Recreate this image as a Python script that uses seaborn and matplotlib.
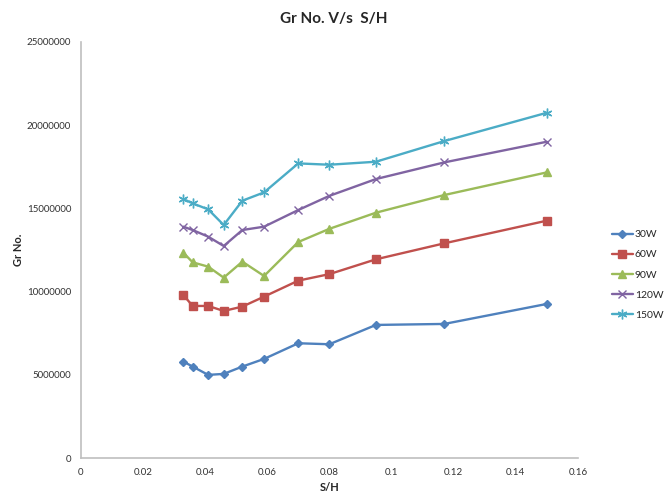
# Gr No. 대 S/H 그래프 다시 그리기

import pandas as pd
import numpy as np
import matplotlib.pyplot as plt
import seaborn as sns

sns.set_style('white')
plt.rcParams['font.family'] = ['Lato', 'DejaVu Sans']

# 그림에서 읽은 값들
sh = [0.033, 0.036, 0.041, 0.046, 0.052, 0.059, 0.070, 0.080, 0.095, 0.117, 0.150]
gr_30w = [5.80e6, 5.50e6, 5.00e6, 5.06e6, 5.50e6, 5.96e6, 6.90e6, 6.84e6, 8.00e6, 8.06e6, 9.26e6]
gr_60w = [9.80e6, 9.14e6, 9.14e6, 8.84e6, 9.10e6, 9.70e6, 10.66e6, 11.05e6, 11.94e6, 12.90e6, 14.26e6]
gr_90w = [12.34e6, 11.76e6, 11.50e6, 10.84e6, 11.80e6, 10.94e6, 12.98e6, 13.77e6, 14.74e6, 15.80e6, 17.16e6]
gr_120w = [13.90e6, 13.70e6, 13.30e6, 12.74e6, 13.70e6, 13.90e6, 14.90e6, 15.75e6, 16.76e6, 17.76e6, 19.00e6]
gr_150w = [15.56e6, 15.30e6, 14.94e6, 14.00e6, 15.46e6, 15.96e6, 17.70e6, 17.62e6, 17.80e6, 19.04e6, 20.74e6]
powers = ['30W', '60W', '90W', '120W', '150W']

series = [gr_30w, gr_60w, gr_90w, gr_120w, gr_150w]
colors = ['#4F81BD', '#C0504D', '#9BBB59', '#8064A2', '#4BACC6']
marks = ['D', 's', '^', 'x', (6, 2, 0)]
msizes = [4.5, 6, 6, 6, 7]

fig = plt.figure(figsize=(6.68, 4.98), dpi=100)
ax = fig.add_axes([0.121, 0.080, 0.744, 0.836])

for p, g, c, m, ms in zip(powers, series, colors, marks, msizes):
    d = pd.DataFrame({'S/H': sh, 'Gr': g})
    sns.lineplot(data=d, x='S/H', y='Gr', color=c, marker=m, markersize=ms,
                 markeredgecolor=c, markeredgewidth=1, linewidth=1.7,
                 label=p, ax=ax)

ax.set_xlim(0, 0.16)
ax.set_ylim(0, 25000000)
ax.set_xticks(np.arange(0, 0.161, 0.02))
ax.set_xticklabels(['0', '0.02', '0.04', '0.06', '0.08', '0.1', '0.12', '0.14', '0.16'])
ax.set_yticks(np.arange(0, 25000001, 5000000))
ax.set_yticklabels(['0', '5000000', '10000000', '15000000', '20000000', '25000000'])
ax.tick_params(axis='both', labelsize=7, colors='#333333', length=0, pad=7)

sns.despine(ax=ax)
for s in ['left', 'bottom']:
    ax.spines[s].set_color('#BFBFBF')
    ax.spines[s].set_linewidth(1.2)

ax.set_xlabel('S/H', fontsize=8, fontweight='bold', labelpad=4)
ax.set_ylabel('Gr No.', fontsize=8, fontweight='bold', labelpad=2)
fig.suptitle('Gr No. V/s  S/H', x=0.5, y=0.975, fontsize=11, fontweight='bold')

ax.legend(loc='center left', bbox_to_anchor=(1.05, 0.44), frameon=False,
          fontsize=7.5, handlelength=2.0, handletextpad=0.2, labelspacing=1.05)

fig.savefig('out.png', dpi=100)
